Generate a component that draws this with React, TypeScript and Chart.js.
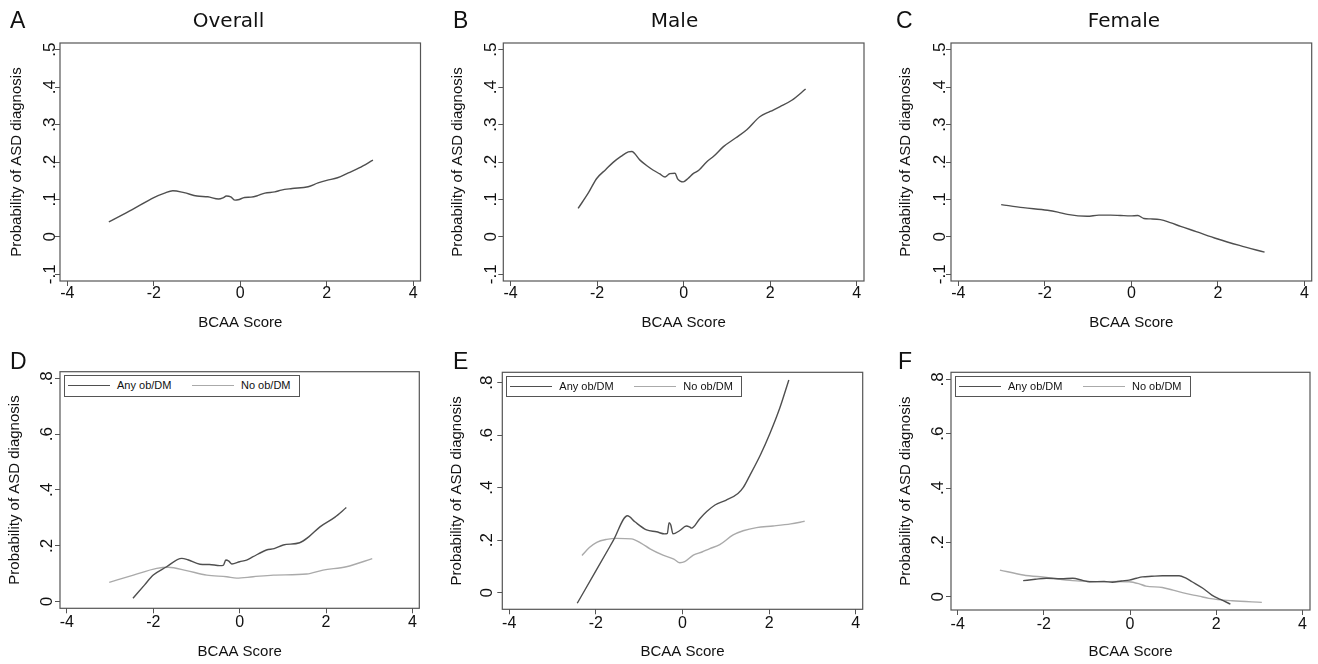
import React, { useEffect, useRef } from 'react';
import { Chart, registerables } from 'chart.js';

Chart.register(...registerables);

// ---------- data ----------
const xTickValues = [-4, -2, 0, 2, 4];
const xTickLabels = ['-4', '-2', '0', '2', '4'];

const topYTickValues = [-0.1, 0, 0.1, 0.2, 0.3, 0.4, 0.5];
const topYTickLabels = ['-.1', '0', '.1', '.2', '.3', '.4', '.5'];
const bottomYTickValues = [0, 0.2, 0.4, 0.6, 0.8];
const bottomYTickLabels = ['0', '.2', '.4', '.6', '.8'];

const panelLetters = ['A', 'B', 'C', 'D', 'E', 'F'];
const panelTitles = ['Overall', 'Male', 'Female'];
const seriesNames = ['Any ob/DM', 'No ob/DM'];

const overallX = [-3.04, -2.5, -2.0, -1.75, -1.56, -1.3, -1.0, -0.75, -0.5, -0.4, -0.32, -0.22, -0.12, -0.05, 0.1, 0.25, 0.4, 0.57, 0.8, 0.95, 1.2, 1.57, 1.8, 2.0, 2.25, 2.5, 2.75, 3.07];
const overallY = [0.040, 0.073, 0.105, 0.117, 0.123, 0.118, 0.109, 0.107, 0.101, 0.104, 0.109, 0.107, 0.098, 0.099, 0.105, 0.106, 0.110, 0.117, 0.120, 0.125, 0.129, 0.134, 0.144, 0.151, 0.158, 0.171, 0.184, 0.205];

const maleX = [-2.44, -2.2, -2.01, -1.8, -1.63, -1.45, -1.28, -1.2, -1.01, -0.85, -0.7, -0.55, -0.43, -0.36, -0.32, -0.2, -0.14, -0.08, -0.01, 0.1, 0.22, 0.35, 0.53, 0.7, 0.92, 1.2, 1.46, 1.76, 2.0, 2.23, 2.5, 2.82];
const maleY = [0.076, 0.118, 0.156, 0.180, 0.199, 0.215, 0.227, 0.228, 0.205, 0.190, 0.178, 0.168, 0.160, 0.166, 0.169, 0.170, 0.155, 0.149, 0.147, 0.156, 0.169, 0.178, 0.200, 0.216, 0.241, 0.264, 0.286, 0.321, 0.335, 0.348, 0.365, 0.395];

const femaleX = [-3.01, -2.5, -1.94, -1.7, -1.48, -1.02, -0.75, -0.48, -0.25, -0.02, 0.15, 0.29, 0.45, 0.67, 0.9, 1.14, 1.5, 1.98, 2.5, 3.08];
const femaleY = [0.086, 0.078, 0.071, 0.066, 0.060, 0.055, 0.058, 0.058, 0.057, 0.056, 0.057, 0.049, 0.048, 0.046, 0.038, 0.028, 0.014, -0.005, -0.023, -0.041];

const overallAnyX = [-2.47, -2.2, -2.0, -1.7, -1.34, -1.2, -0.92, -0.7, -0.46, -0.38, -0.32, -0.25, -0.18, 0.0, 0.16, 0.3, 0.62, 0.8, 1.01, 1.39, 1.6, 1.86, 2.2, 2.47];
const overallAnyY = [0.012, 0.060, 0.095, 0.124, 0.155, 0.150, 0.134, 0.133, 0.129, 0.130, 0.149, 0.145, 0.135, 0.143, 0.149, 0.160, 0.185, 0.190, 0.203, 0.211, 0.232, 0.268, 0.302, 0.337];
const overallNoneX = [-3.02, -2.46, -1.92, -1.65, -1.23, -0.76, -0.3, -0.07, 0.31, 0.78, 1.55, 1.93, 2.47, 3.07];
const overallNoneY = [0.069, 0.095, 0.119, 0.123, 0.111, 0.095, 0.089, 0.084, 0.089, 0.095, 0.099, 0.113, 0.125, 0.154];

const maleAnyX = [-2.43, -2.0, -1.6, -1.27, -1.1, -0.83, -0.6, -0.41, -0.35, -0.31, -0.27, -0.22, -0.07, 0.09, 0.16, 0.21, 0.4, 0.56, 0.75, 1.0, 1.28, 1.4, 1.55, 1.8, 2.02, 2.25, 2.455];
const maleAnyY = [-0.040, 0.083, 0.198, 0.293, 0.270, 0.239, 0.232, 0.224, 0.226, 0.267, 0.258, 0.224, 0.236, 0.254, 0.251, 0.246, 0.282, 0.309, 0.334, 0.352, 0.378, 0.400, 0.445, 0.525, 0.607, 0.705, 0.810];
const maleNoneX = [-2.32, -2.15, -1.98, -1.75, -1.52, -1.18, -0.95, -0.75, -0.45, -0.2, -0.06, 0.05, 0.25, 0.45, 0.63, 0.86, 1.17, 1.4, 1.71, 2.09, 2.5, 2.82];
const maleNoneY = [0.142, 0.172, 0.192, 0.203, 0.207, 0.205, 0.188, 0.167, 0.143, 0.128, 0.114, 0.118, 0.143, 0.155, 0.168, 0.183, 0.220, 0.236, 0.248, 0.254, 0.262, 0.272];

const femaleAnyX = [-2.48, -2.2, -1.94, -1.6, -1.33, -1.1, -0.94, -0.6, -0.41, -0.2, -0.02, 0.15, 0.29, 0.5, 0.75, 1.14, 1.3, 1.44, 1.7, 1.9, 2.1, 2.33];
const femaleAnyY = [0.059, 0.064, 0.068, 0.066, 0.068, 0.060, 0.055, 0.056, 0.053, 0.058, 0.061, 0.068, 0.073, 0.075, 0.077, 0.077, 0.068, 0.055, 0.030, 0.006, -0.010, -0.027];
const femaleNoneX = [-3.02, -2.48, -1.94, -1.33, -0.79, -0.3, -0.02, 0.2, 0.37, 0.75, 1.0, 1.29, 1.6, 1.83, 2.37, 3.06];
const femaleNoneY = [0.098, 0.080, 0.071, 0.059, 0.055, 0.056, 0.055, 0.048, 0.039, 0.034, 0.024, 0.012, 0.002, -0.006, -0.015, -0.021];

// ---------- styles ----------
const FONT = "'Liberation Sans', Arial, Helvetica, sans-serif";
const TITLE_FONT = "'DejaVu Sans', Verdana, sans-serif";
const DARK = '#4f4f4f';
const LIGHT = '#aaaaaa';
const AXIS = '#555555';
const TEXT = '#111111';

type Series = { label: string; x: number[]; y: number[]; color: string };
type PanelCfg = {
  key: string;
  cx: number; cy: number; cw: number; ch: number;
  box: { l: number; t: number; r: number; b: number };
  xMin: number; xMax: number; yMin: number; yMax: number;
  yVals: number[]; yLabels: string[];
  series: Series[];
  legend: boolean;
  xTickPad: number; yTickPad: number; yTitlePad: number; xTitlePad: number;
};

const framePlugin = {
  id: 'frame',
  afterDatasetsDraw(chart: any) {
    const { ctx, chartArea } = chart;
    const { left, top, right, bottom } = chartArea;
    ctx.save();
    ctx.strokeStyle = AXIS;
    ctx.lineWidth = 1.2;
    ctx.strokeRect(left, top, right - left, bottom - top);
    ctx.restore();
  },
};

const panels: PanelCfg[] = [
  {
    key: 'A', cx: 0, cy: 0, cw: 440, ch: 332, box: { l: 60, t: 43, r: 420.5, b: 281 },
    xMin: -4.17, xMax: 4.17, yMin: -0.118, yMax: 0.518, yVals: topYTickValues, yLabels: topYTickLabels,
    series: [{ label: panelTitles[0], x: overallX, y: overallY, color: DARK }], legend: false,
    xTickPad: -2, yTickPad: -4.9, yTitlePad: 7.5, xTitlePad: 0,
  },
  {
    key: 'B', cx: 443, cy: 0, cw: 440, ch: 332, box: { l: 503.3, t: 43, r: 864, b: 281 },
    xMin: -4.17, xMax: 4.17, yMin: -0.118, yMax: 0.518, yVals: topYTickValues, yLabels: topYTickLabels,
    series: [{ label: panelTitles[1], x: maleX, y: maleY, color: DARK }], legend: false,
    xTickPad: -2, yTickPad: -3.3, yTitlePad: 6, xTitlePad: 0,
  },
  {
    key: 'C', cx: 891, cy: 0, cw: 427, ch: 332, box: { l: 951, t: 43, r: 1311.7, b: 281 },
    xMin: -4.17, xMax: 4.17, yMin: -0.118, yMax: 0.518, yVals: topYTickValues, yLabels: topYTickLabels,
    series: [{ label: panelTitles[2], x: femaleX, y: femaleY, color: DARK }], legend: false,
    xTickPad: -2, yTickPad: -3.9, yTitlePad: 6, xTitlePad: 0,
  },
  {
    key: 'D', cx: 0, cy: 332, cw: 440, ch: 332, box: { l: 60, t: 371.7, r: 419.3, b: 608.3 },
    xMin: -4.16, xMax: 4.16, yMin: -0.024, yMax: 0.824, yVals: bottomYTickValues, yLabels: bottomYTickLabels,
    series: [
      { label: seriesNames[0], x: overallAnyX, y: overallAnyY, color: DARK },
      { label: seriesNames[1], x: overallNoneX, y: overallNoneY, color: LIGHT },
    ], legend: true,
    xTickPad: 0, yTickPad: 0.2, yTitlePad: 6, xTitlePad: 3.3,
  },
  {
    key: 'E', cx: 442, cy: 332, cw: 440, ch: 332, box: { l: 502.3, t: 372.3, r: 862.7, b: 609.3 },
    xMin: -4.16, xMax: 4.16, yMin: -0.063, yMax: 0.839, yVals: bottomYTickValues, yLabels: bottomYTickLabels,
    series: [
      { label: seriesNames[0], x: maleAnyX, y: maleAnyY, color: DARK },
      { label: seriesNames[1], x: maleNoneX, y: maleNoneY, color: LIGHT },
    ], legend: true,
    xTickPad: 0, yTickPad: 2.7, yTitlePad: 6, xTitlePad: 3.3,
  },
  {
    key: 'F', cx: 891, cy: 332, cw: 427, ch: 332, box: { l: 951, t: 372.3, r: 1310, b: 610 },
    xMin: -4.155, xMax: 4.178, yMin: -0.049, yMax: 0.826, yVals: bottomYTickValues, yLabels: bottomYTickLabels,
    series: [
      { label: seriesNames[0], x: femaleAnyX, y: femaleAnyY, color: DARK },
      { label: seriesNames[1], x: femaleNoneX, y: femaleNoneY, color: LIGHT },
    ], legend: true,
    xTickPad: 0, yTickPad: 0.9, yTitlePad: 6, xTitlePad: 3.3,
  },
];

function Panel({ p }: { p: PanelCfg }) {
  const ref = useRef<HTMLCanvasElement | null>(null);
  useEffect(() => {
    const canvas = ref.current;
    if (!canvas) return;
    const boxL = p.box.l - p.cx;
    const boxT = p.box.t - p.cy;
    const boxR = p.box.r - p.cx;
    const boxB = p.box.b - p.cy;
    const chart = new Chart(canvas, {
      type: 'line',
      data: {
        datasets: p.series.map((s) => ({
          label: s.label,
          data: s.x.map((x, i) => ({ x, y: s.y[i] })),
          borderColor: s.color,
          backgroundColor: s.color,
          borderWidth: 1.4,
          pointRadius: 0,
          fill: false,
          cubicInterpolationMode: 'monotone' as const,
        })),
      },
      options: {
        responsive: false,
        animation: false,
        events: [],
        layout: { padding: { left: 0, top: boxT, right: p.cw - boxR, bottom: 0 } },
        plugins: { legend: { display: false }, tooltip: { enabled: false }, title: { display: false } },
        scales: {
          x: {
            type: 'linear',
            min: p.xMin,
            max: p.xMax,
            afterBuildTicks: (s: any) => { s.ticks = xTickValues.map((v) => ({ value: v })); },
            afterFit: (s: any) => { s.height = p.ch - boxB; },
            ticks: {
              autoSkip: false, minRotation: 0, maxRotation: 0, padding: p.xTickPad,
              font: { family: FONT, size: 16 }, color: TEXT,
              callback: (v: any) => xTickLabels[xTickValues.indexOf(Number(v))],
            },
            grid: { display: true, drawOnChartArea: false, drawTicks: true, tickLength: 5, tickColor: AXIS, tickWidth: 1 },
            border: { display: false },
            title: { display: true, text: 'BCAA Score', font: { family: FONT, size: 15 }, color: TEXT, padding: { top: 0, bottom: p.xTitlePad } },
          },
          y: {
            type: 'linear',
            min: p.yMin,
            max: p.yMax,
            afterBuildTicks: (s: any) => { s.ticks = p.yVals.map((v) => ({ value: v })); },
            afterFit: (s: any) => { s.width = boxL; },
            ticks: {
              autoSkip: false, minRotation: 90, maxRotation: 90, crossAlign: 'center', padding: p.yTickPad,
              font: { family: FONT, size: 17 }, color: TEXT,
              callback: (v: any) => p.yLabels[p.yVals.indexOf(Number(v))],
            },
            grid: { display: true, drawOnChartArea: false, drawTicks: true, tickLength: 5, tickColor: AXIS, tickWidth: 1 },
            border: { display: false },
            title: { display: true, text: 'Probability of ASD diagnosis', font: { family: FONT, size: 15 }, color: TEXT, padding: { top: p.yTitlePad, bottom: 0 } },
          },
        },
      } as any,
      plugins: [framePlugin],
    });
    return () => chart.destroy();
  }, [p]);
  return (
    <canvas
      ref={ref}
      width={p.cw}
      height={p.ch}
      style={{ position: 'absolute', left: p.cx, top: p.cy, width: p.cw, height: p.ch }}
    />
  );
}

function Legend({ p }: { p: PanelCfg }) {
  const left = p.box.l + 3.5;
  const top = p.box.t + 3.5;
  const lineY = 9.8;
  const item = (x: number, color: string, textX: number, text: string) => (
    <React.Fragment key={text}>
      <div style={{ position: 'absolute', left: x, top: lineY - 0.6, width: 42, height: 0, borderTop: `1.3px solid ${color}` }} />
      <div style={{ position: 'absolute', left: textX, top: lineY - 6.5, fontFamily: FONT, fontSize: 11, lineHeight: '13px', color: TEXT, whiteSpace: 'nowrap' }}>{text}</div>
    </React.Fragment>
  );
  return (
    <div style={{ position: 'absolute', left, top, width: 236, height: 21.5, border: `1px solid ${AXIS}`, boxSizing: 'border-box', background: '#fff' }}>
      {item(3.5, DARK, 52.5, p.series[0].label)}
      {item(127.5, LIGHT, 176.5, p.series[1].label)}
    </div>
  );
}

const letterPos = [
  { x: 10, y: 9 }, { x: 453, y: 9 }, { x: 896, y: 9 },
  { x: 10, y: 350 }, { x: 453, y: 349.5 }, { x: 898, y: 349.5 },
];
const titleCenters = [228.5, 674.5, 1124];

export default function App() {
  return (
    <div style={{ position: 'absolute', left: 0, top: 0, width: 1318, height: 664, background: '#fff', overflow: 'hidden' }}>
      {panels.map((p) => <Panel key={p.key} p={p} />)}
      {panels.filter((p) => p.legend).map((p) => <Legend key={'lg' + p.key} p={p} />)}
      {panelLetters.map((L, i) => (
        <div key={L} style={{ position: 'absolute', left: letterPos[i].x, top: letterPos[i].y, fontFamily: FONT, fontSize: 23, lineHeight: '23px', color: TEXT }}>{L}</div>
      ))}
      {panelTitles.map((t, i) => (
        <div key={t} style={{ position: 'absolute', left: titleCenters[i] - 100, top: 9.7, width: 200, textAlign: 'center', fontFamily: TITLE_FONT, fontSize: 20, lineHeight: '20px', color: TEXT }}>{t}</div>
      ))}
    </div>
  );
}
